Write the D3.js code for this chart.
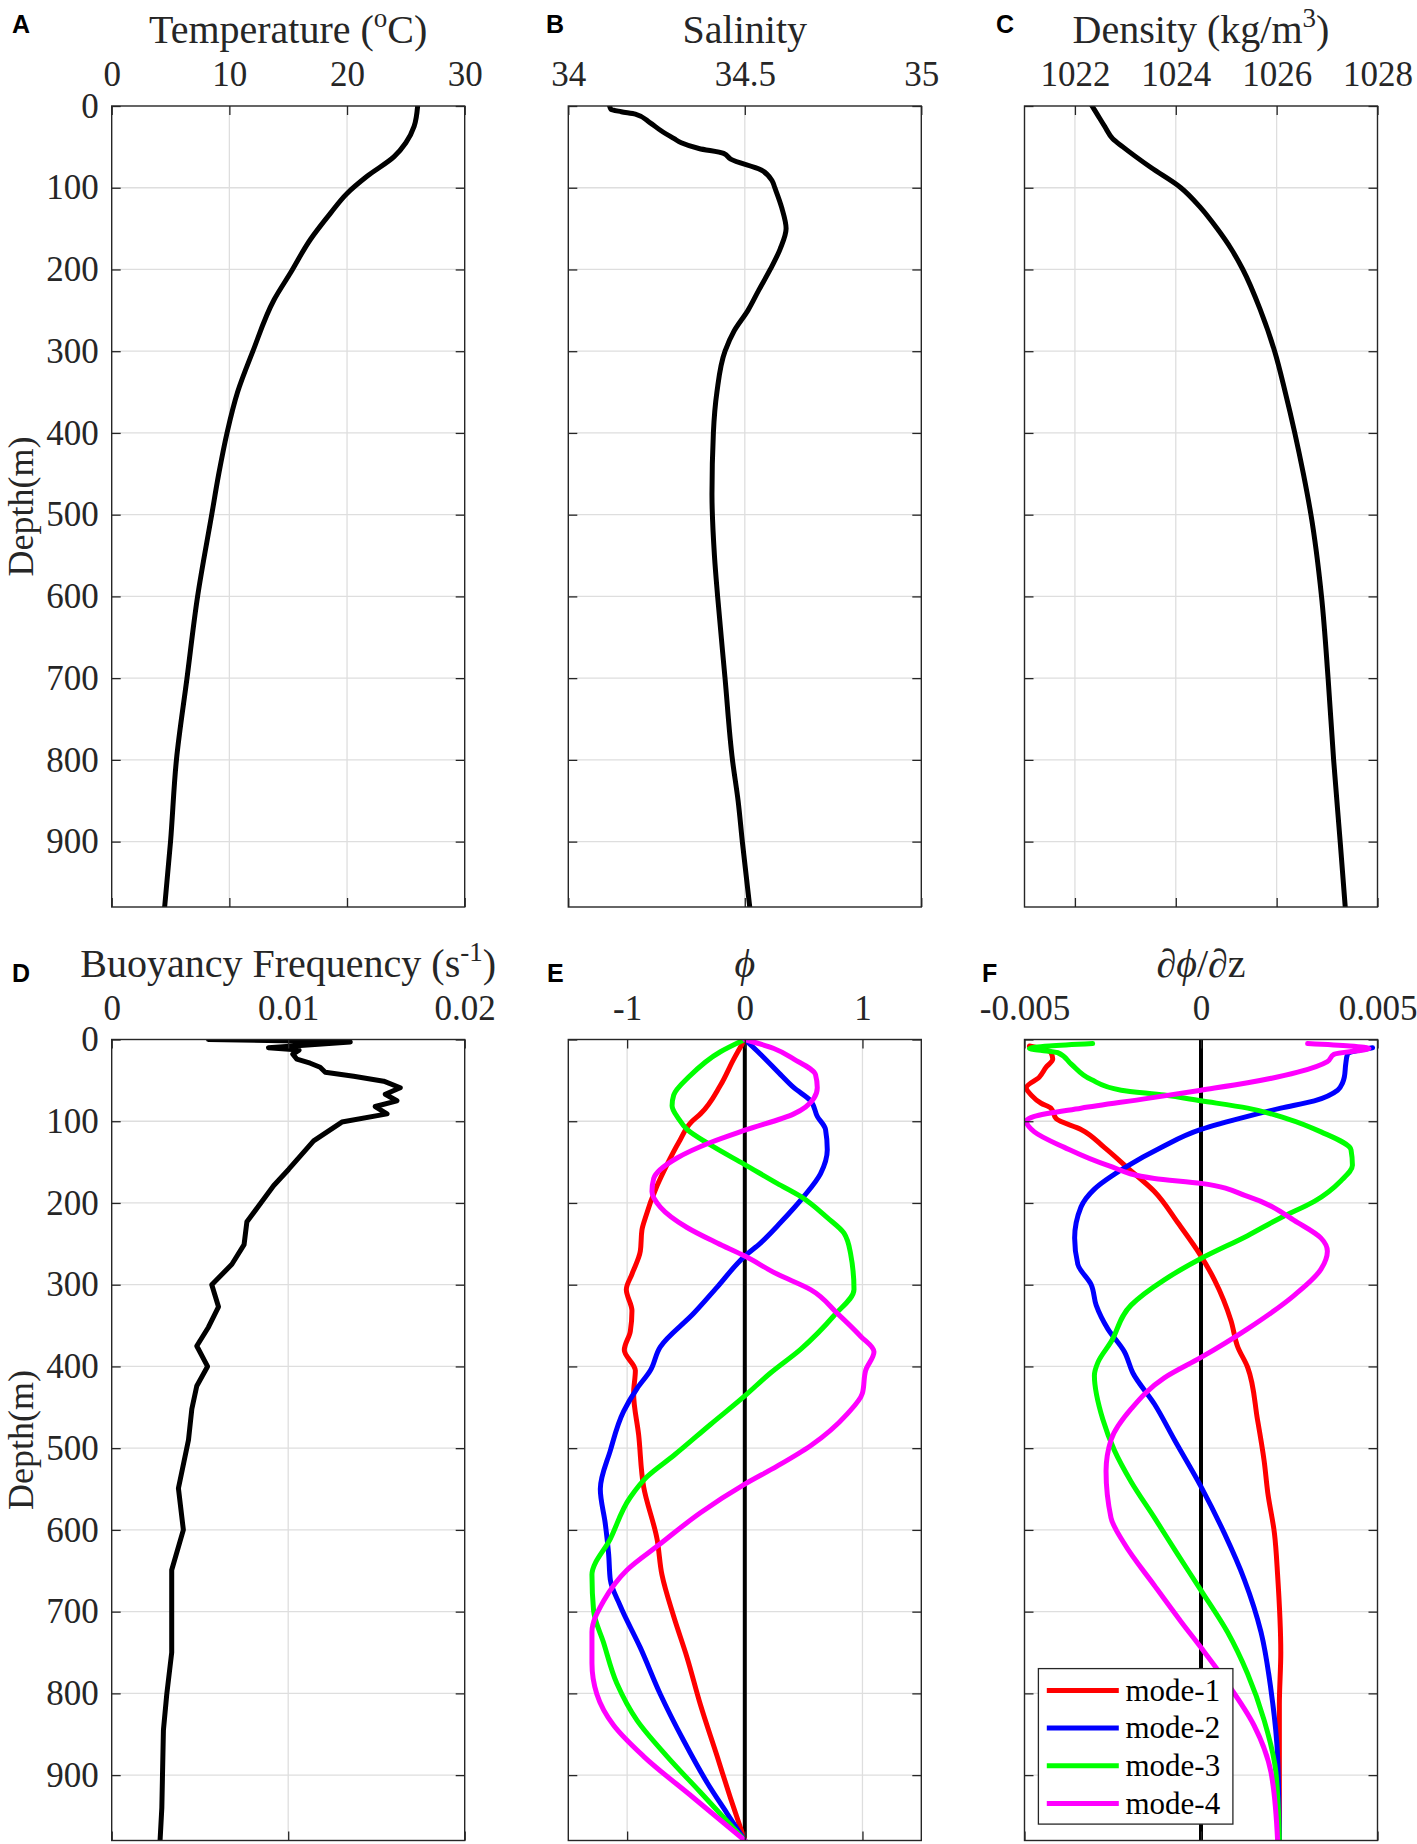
<!DOCTYPE html>
<html>
<head>
<meta charset="utf-8">
<script src="https://cdn.jsdelivr.net/npm/d3@7"></script>
<style>
body { margin: 0; background: #fff; }
svg text { font-family: "Liberation Serif", "Times New Roman", serif; fill: #262626; }
</style>
</head>
<body>
<div class="vis"></div>
<script>
// depth axis shared by all six panels
const depthTicks = [0, 100, 200, 300, 400, 500, 600, 700, 800, 900];
const depthMax = 980;
const serif = "'Liberation Serif', 'Times New Roman', serif";

// profiles as [depth (m), value]
const temperature = [[0,26.0],[25,25.7],[45,25.0],[62,24.0],[86,21.7],[107,20.0],[131,18.6],[163,16.9],[204,15.2],[237,13.8],[300,12.0],[350,10.7],[400,9.8],[450,9.1],[500,8.5],[600,7.3],[700,6.4],[800,5.5],[900,5.0],[980,4.5]];

const salinity = [[0,34.117],[4,34.121],[7,34.15],[10,34.19],[20,34.23],[30,34.262],[40,34.30],[45,34.32],[52,34.37],[58,34.44],[65,34.46],[78,34.545],[92,34.578],[100,34.585],[125,34.605],[150,34.617],[175,34.60],[200,34.572],[225,34.540],[250,34.509],[275,34.470],[300,34.444],[350,34.421],[400,34.411],[475,34.407],[550,34.414],[600,34.423],[700,34.444],[800,34.465],[850,34.481],[900,34.493],[980,34.514]];

const density = [[0,1022.34],[10,1022.44],[25,1022.59],[40,1022.75],[50,1022.95],[75,1023.5],[100,1024.1],[125,1024.5],[150,1024.82],[175,1025.1],[200,1025.33],[250,1025.68],[300,1025.96],[350,1026.17],[400,1026.36],[450,1026.53],[500,1026.68],[600,1026.89],[700,1027.02],[800,1027.13],[900,1027.26],[980,1027.36]];

const buoyancy = [[0,0.00548],[3,0.01352],[10,0.00888],[13,0.01062],[18,0.01026],[24,0.01049],[29,0.01125],[34,0.01181],[40,0.01210],[45,0.01371],[51,0.01541],[59,0.01635],[67,0.01550],[75,0.01616],[82,0.01493],[91,0.01560],[101,0.01304],[124,0.01144],[159,0.01002],[179,0.00917],[223,0.00766],[251,0.00750],[275,0.00681],[300,0.00567],[327,0.00605],[352,0.00548],[375,0.00482],[400,0.00543],[424,0.00482],[452,0.00454],[490,0.00435],[549,0.00378],[600,0.00406],[649,0.00340],[750,0.00340],[801,0.00312],[845,0.00293],[940,0.00284],[980,0.00274]];

// vertical structure phi of the first four modes
const phiMode1 = [[0,0],[24,-0.094],[56,-0.207],[91,-0.377],[100,-0.448],[126,-0.562],[153,-0.661],[179,-0.746],[218,-0.845],[233,-0.874],[259,-0.888],[287,-0.959],[306,-1.007],[332,-0.959],[357,-0.973],[380,-1.024],[405,-0.930],[433,-0.945],[484,-0.902],[547,-0.860],[611,-0.746],[655,-0.704],[706,-0.604],[756,-0.491],[814,-0.377],[877,-0.235],[928,-0.122],[980,0]];
const phiMode2 = [[0,0],[18,0.133],[43,0.304],[59,0.417],[75,0.559],[94,0.616],[110,0.686],[135,0.701],[164,0.644],[192,0.502],[224,0.304],[249,0.133],[265,0],[303,-0.235],[335,-0.434],[376,-0.718],[405,-0.803],[427,-0.916],[455,-1.030],[503,-1.143],[550,-1.228],[592,-1.186],[630,-1.157],[661,-1.143],[693,-1.058],[744,-0.888],[801,-0.718],[858,-0.519],[909,-0.321],[947,-0.150],[980,0]];
const phiMode3 = [[0,0],[15,-0.207],[46,-0.477],[68,-0.604],[81,-0.618],[97,-0.562],[110,-0.491],[129,-0.292],[153,0],[176,0.275],[192,0.474],[218,0.701],[237,0.843],[262,0.899],[306,0.928],[338,0.757],[379,0.474],[408,0.218],[436,0],[471,-0.292],[509,-0.604],[535,-0.831],[560,-0.973],[611,-1.143],[655,-1.299],[699,-1.285],[738,-1.200],[788,-1.087],[833,-0.916],[877,-0.661],[921,-0.377],[980,0]];
const phiMode4 = [[0,0],[11,0.247],[24,0.417],[43,0.601],[59,0.616],[72,0.587],[91,0.417],[111,0],[126,-0.292],[145,-0.576],[170,-0.774],[186,-0.789],[205,-0.718],[230,-0.491],[249,-0.235],[265,0],[287,0.275],[306,0.559],[335,0.786],[363,0.984],[382,1.098],[405,1.027],[433,0.999],[458,0.871],[497,0.559],[522,0.275],[544,0],[579,-0.377],[617,-0.718],[649,-1.001],[687,-1.200],[725,-1.299],[763,-1.299],[801,-1.257],[839,-1.115],[877,-0.860],[928,-0.434],[980,0]];

// vertical derivative dphi/dz of the same modes
const dphiMode1 = [[8,-0.00486],[16,-0.00425],[24,-0.00420],[34,-0.00439],[46,-0.00458],[59,-0.00495],[68,-0.00481],[78,-0.00453],[84,-0.00425],[97,-0.00410],[110,-0.00340],[132,-0.00274],[157,-0.00208],[186,-0.00132],[224,-0.00066],[265,0],[294,0.00038],[344,0.00085],[376,0.00104],[401,0.00132],[465,0.00160],[516,0.00179],[554,0.00189],[604,0.00208],[655,0.00217],[750,0.00226],[814,0.00222],[980,0.00222]];
const dphiMode2 = [[10,0.00486],[18,0.00415],[30,0.00410],[46,0.00406],[53,0.00401],[62,0.00387],[75,0.00321],[84,0.00226],[94,0.00132],[110,0],[132,-0.00113],[157,-0.00217],[183,-0.00302],[205,-0.00340],[243,-0.00358],[275,-0.00349],[300,-0.00311],[325,-0.00297],[354,-0.00264],[382,-0.00217],[408,-0.00193],[446,-0.00132],[490,-0.00075],[547,0],[604,0.00066],[661,0.00123],[725,0.00170],[795,0.00198],[877,0.00217],[980,0.00222]];
const dphiMode3 = [[5,-0.00307],[11,-0.00486],[16,-0.00406],[30,-0.00368],[49,-0.00311],[62,-0.00226],[68,-0.00104],[75,0],[84,0.00132],[97,0.00245],[113,0.00340],[135,0.00425],[154,0.00429],[173,0.00396],[198,0.00321],[218,0.00226],[240,0.00132],[268,0],[294,-0.00104],[325,-0.00198],[370,-0.00255],[395,-0.00292],[411,-0.00302],[465,-0.00278],[503,-0.00245],[541,-0.00198],[585,-0.00132],[630,-0.00066],[674,0],[725,0.00075],[776,0.00132],[833,0.00179],[896,0.00212],[980,0.00222]];
const dphiMode4 = [[5,0.00302],[11,0.00476],[18,0.00377],[27,0.00358],[40,0.00274],[53,0.00132],[62,0],[72,-0.00151],[84,-0.00340],[94,-0.00472],[100,-0.00495],[113,-0.00472],[132,-0.00387],[154,-0.00264],[170,-0.00132],[176,0],[192,0.00132],[224,0.00274],[243,0.00340],[259,0.00358],[281,0.00340],[313,0.00264],[354,0.00132],[389,0],[414,-0.00104],[452,-0.00198],[490,-0.00255],[528,-0.00269],[585,-0.00255],[617,-0.00217],[668,-0.00132],[712,-0.00057],[744,0],[788,0.00075],[839,0.00150],[896,0.00198],[980,0.00217]];

const modeNames = ["mode-1", "mode-2", "mode-3", "mode-4"];
const modeColors = ["#ff0000", "#0000ff", "#00ff00", "#ff00ff"];

const W = 1417, H = 1844;
const colX = [111.7, 568.3, 1024.5];
const rowY = [106, 1039.5];
const pw = 353, ph = 801;
const titleY = [43, 977];
const letterY = [33, 982];
const lineW = 5;

const panels = [
    {letter: "A", lx: 12, col: 0, row: 0, title: [["Temperature ("], ["o", 1], ["C)"]], domain: [0, 30], ticks: [0, 10, 20, 30],
        series: [{data: temperature, color: "#000"}], curve: d3.curveMonotoneY, ylabel: true},
    {letter: "B", lx: 546, col: 1, row: 0, title: [["Salinity"]], domain: [34, 35], ticks: [34, 34.5, 35],
        series: [{data: salinity, color: "#000"}], curve: d3.curveMonotoneY},
    {letter: "C", lx: 996, col: 2, row: 0, title: [["Density (kg/m"], ["3", 1], [")"]], domain: [1021, 1028], ticks: [1022, 1024, 1026, 1028],
        series: [{data: density, color: "#000"}], curve: d3.curveMonotoneY},
    {letter: "D", lx: 12, col: 0, row: 1, title: [["Buoyancy Frequency (s"], ["-1", 1], [")"]], domain: [0, 0.02], ticks: [0, 0.01, 0.02],
        series: [{data: buoyancy, color: "#000"}], curve: d3.curveLinear, ylabel: true},
    {letter: "E", lx: 547, col: 1, row: 1, title: [["ϕ", 2]], domain: [-1.5, 1.5], ticks: [-1, 0, 1],
        series: [phiMode1, phiMode2, phiMode3, phiMode4].map((d, i) => ({data: d, color: modeColors[i]})),
        curve: d3.curveMonotoneY, zeroLine: true},
    {letter: "F", lx: 982, col: 2, row: 1, title: [["∂"], ["ϕ", 2], ["/∂z"]], domain: [-0.005, 0.005], ticks: [-0.005, 0, 0.005],
        series: [dphiMode1, dphiMode2, dphiMode3, dphiMode4].map((d, i) => ({data: d, color: modeColors[i]})),
        curve: d3.curveMonotoneY, zeroLine: true, legend: true}
];

const svg = d3.select(".vis").append("svg")
    .attr("width", W).attr("height", H)
    .attr("viewBox", `0 0 ${W} ${H}`);

const drawPanel = p => {
    const x0 = colX[p.col], y0 = rowY[p.row];
    const x = d3.scaleLinear().domain(p.domain).range([x0, x0 + pw]);
    const y = d3.scaleLinear().domain([0, depthMax]).range([y0, y0 + ph]);
    const g = svg.append("g").attr("class", `panel-${p.letter}`);

    g.append("clipPath").attr("id", `clip-${p.letter}`)
        .append("rect").attr("x", x0).attr("y", y0).attr("width", pw).attr("height", ph);

    // grid
    g.append("g").attr("class", "grid")
        .selectAll("line.gx").data(p.ticks.filter(t => t !== p.domain[0] && t !== p.domain[1]))
        .join("line").attr("x1", d => x(d)).attr("x2", d => x(d)).attr("y1", y0).attr("y2", y0 + ph)
        .attr("stroke", "#dedede").attr("stroke-width", 1.3);
    g.append("g").attr("class", "grid")
        .selectAll("line.gy").data(depthTicks.filter(t => t > 0))
        .join("line").attr("y1", d => y(d)).attr("y2", d => y(d)).attr("x1", x0).attr("x2", x0 + pw)
        .attr("stroke", "#dedede").attr("stroke-width", 1.3);

    const plot = g.append("g").attr("clip-path", `url(#clip-${p.letter})`);
    const line = d3.line().x(d => x(d[1])).y(d => y(d[0])).curve(p.curve);

    if (p.zeroLine) {
        plot.append("line").attr("x1", x(0)).attr("x2", x(0)).attr("y1", y0).attr("y2", y0 + ph)
            .attr("stroke", "#000").attr("stroke-width", 4);
    }
    p.series.forEach(s => {
        plot.append("path").datum(s.data).attr("d", line)
            .attr("fill", "none").attr("stroke", s.color)
            .attr("stroke-width", lineW).attr("stroke-linejoin", "round").attr("stroke-linecap", "round");
    });

    // frame and inward ticks on all four sides
    const frameAxis = (axis, tr) => {
        const a = g.append("g").attr("transform", tr).call(axis);
        a.attr("font-family", serif).attr("font-size", 35);
        a.select(".domain").remove();
        a.selectAll(".tick line").attr("stroke", "#262626").attr("stroke-width", 1.3);
        a.selectAll(".tick text").style("font-family", serif).style("font-size", "35px").style("fill", "#262626");
        return a;
    };
    frameAxis(d3.axisTop(x).tickValues(p.ticks).tickFormat(d => String(d)).tickSizeInner(-9).tickSizeOuter(0).tickPadding(20), `translate(0,${y0})`);
    frameAxis(d3.axisBottom(x).tickValues(p.ticks).tickFormat("").tickSizeInner(-9).tickSizeOuter(0), `translate(0,${y0 + ph})`);
    frameAxis(d3.axisLeft(y).tickValues(depthTicks).tickFormat(p.ylabel ? (d => String(d)) : "").tickSizeInner(-9).tickSizeOuter(0).tickPadding(13), `translate(${x0},0)`);
    frameAxis(d3.axisRight(y).tickValues(depthTicks).tickFormat("").tickSizeInner(-9).tickSizeOuter(0), `translate(${x0 + pw},0)`);

    g.append("rect").attr("x", x0).attr("y", y0).attr("width", pw).attr("height", ph)
        .attr("fill", "none").attr("stroke", "#262626").attr("stroke-width", 1.4);

    // title with superscripts
    const title = g.append("text").attr("x", x0 + pw / 2).attr("y", titleY[p.row])
        .attr("text-anchor", "middle").style("font-size", "40px");
    let raised = false;
    p.title.forEach(([t, kind]) => {
        const ts = title.append("tspan").text(t);
        if (kind === 1) {
            ts.style("font-size", "27px").attr("dy", -16);
            raised = true;
        } else {
            if (raised) { ts.attr("dy", 16); raised = false; }
            if (kind === 2) ts.style("font-style", "italic");
        }
    });

    g.append("text").attr("x", p.lx).attr("y", letterY[p.row])
        .style("font-family", "'Liberation Sans', Arial, sans-serif").style("font-weight", "bold")
        .style("font-size", "25px").style("fill", "#000").text(p.letter);

    if (p.ylabel) {
        g.append("text").attr("transform", `translate(33,${y0 + ph / 2}) rotate(-90)`)
            .attr("text-anchor", "middle").style("font-size", "36px").text("Depth(m)");
    }

    if (p.legend) {
        const lg = g.append("g").attr("class", "legend");
        lg.append("rect").attr("x", 1038.4).attr("y", 1668.6).attr("width", 194.5).attr("height", 155.5)
            .attr("fill", "#fff").attr("stroke", "#262626").attr("stroke-width", 1.3);
        modeNames.forEach((name, i) => {
            const ly = 1690.4 + i * 37.7;
            lg.append("line").attr("x1", 1046.8).attr("x2", 1118.8).attr("y1", ly).attr("y2", ly)
                .attr("stroke", modeColors[i]).attr("stroke-width", lineW);
            lg.append("text").attr("x", 1125.5).attr("y", ly).attr("dy", "0.33em")
                .style("font-size", "31px").style("fill", "#000").text(name);
        });
    }
};

panels.forEach(drawPanel);
</script>
</body>
</html>
